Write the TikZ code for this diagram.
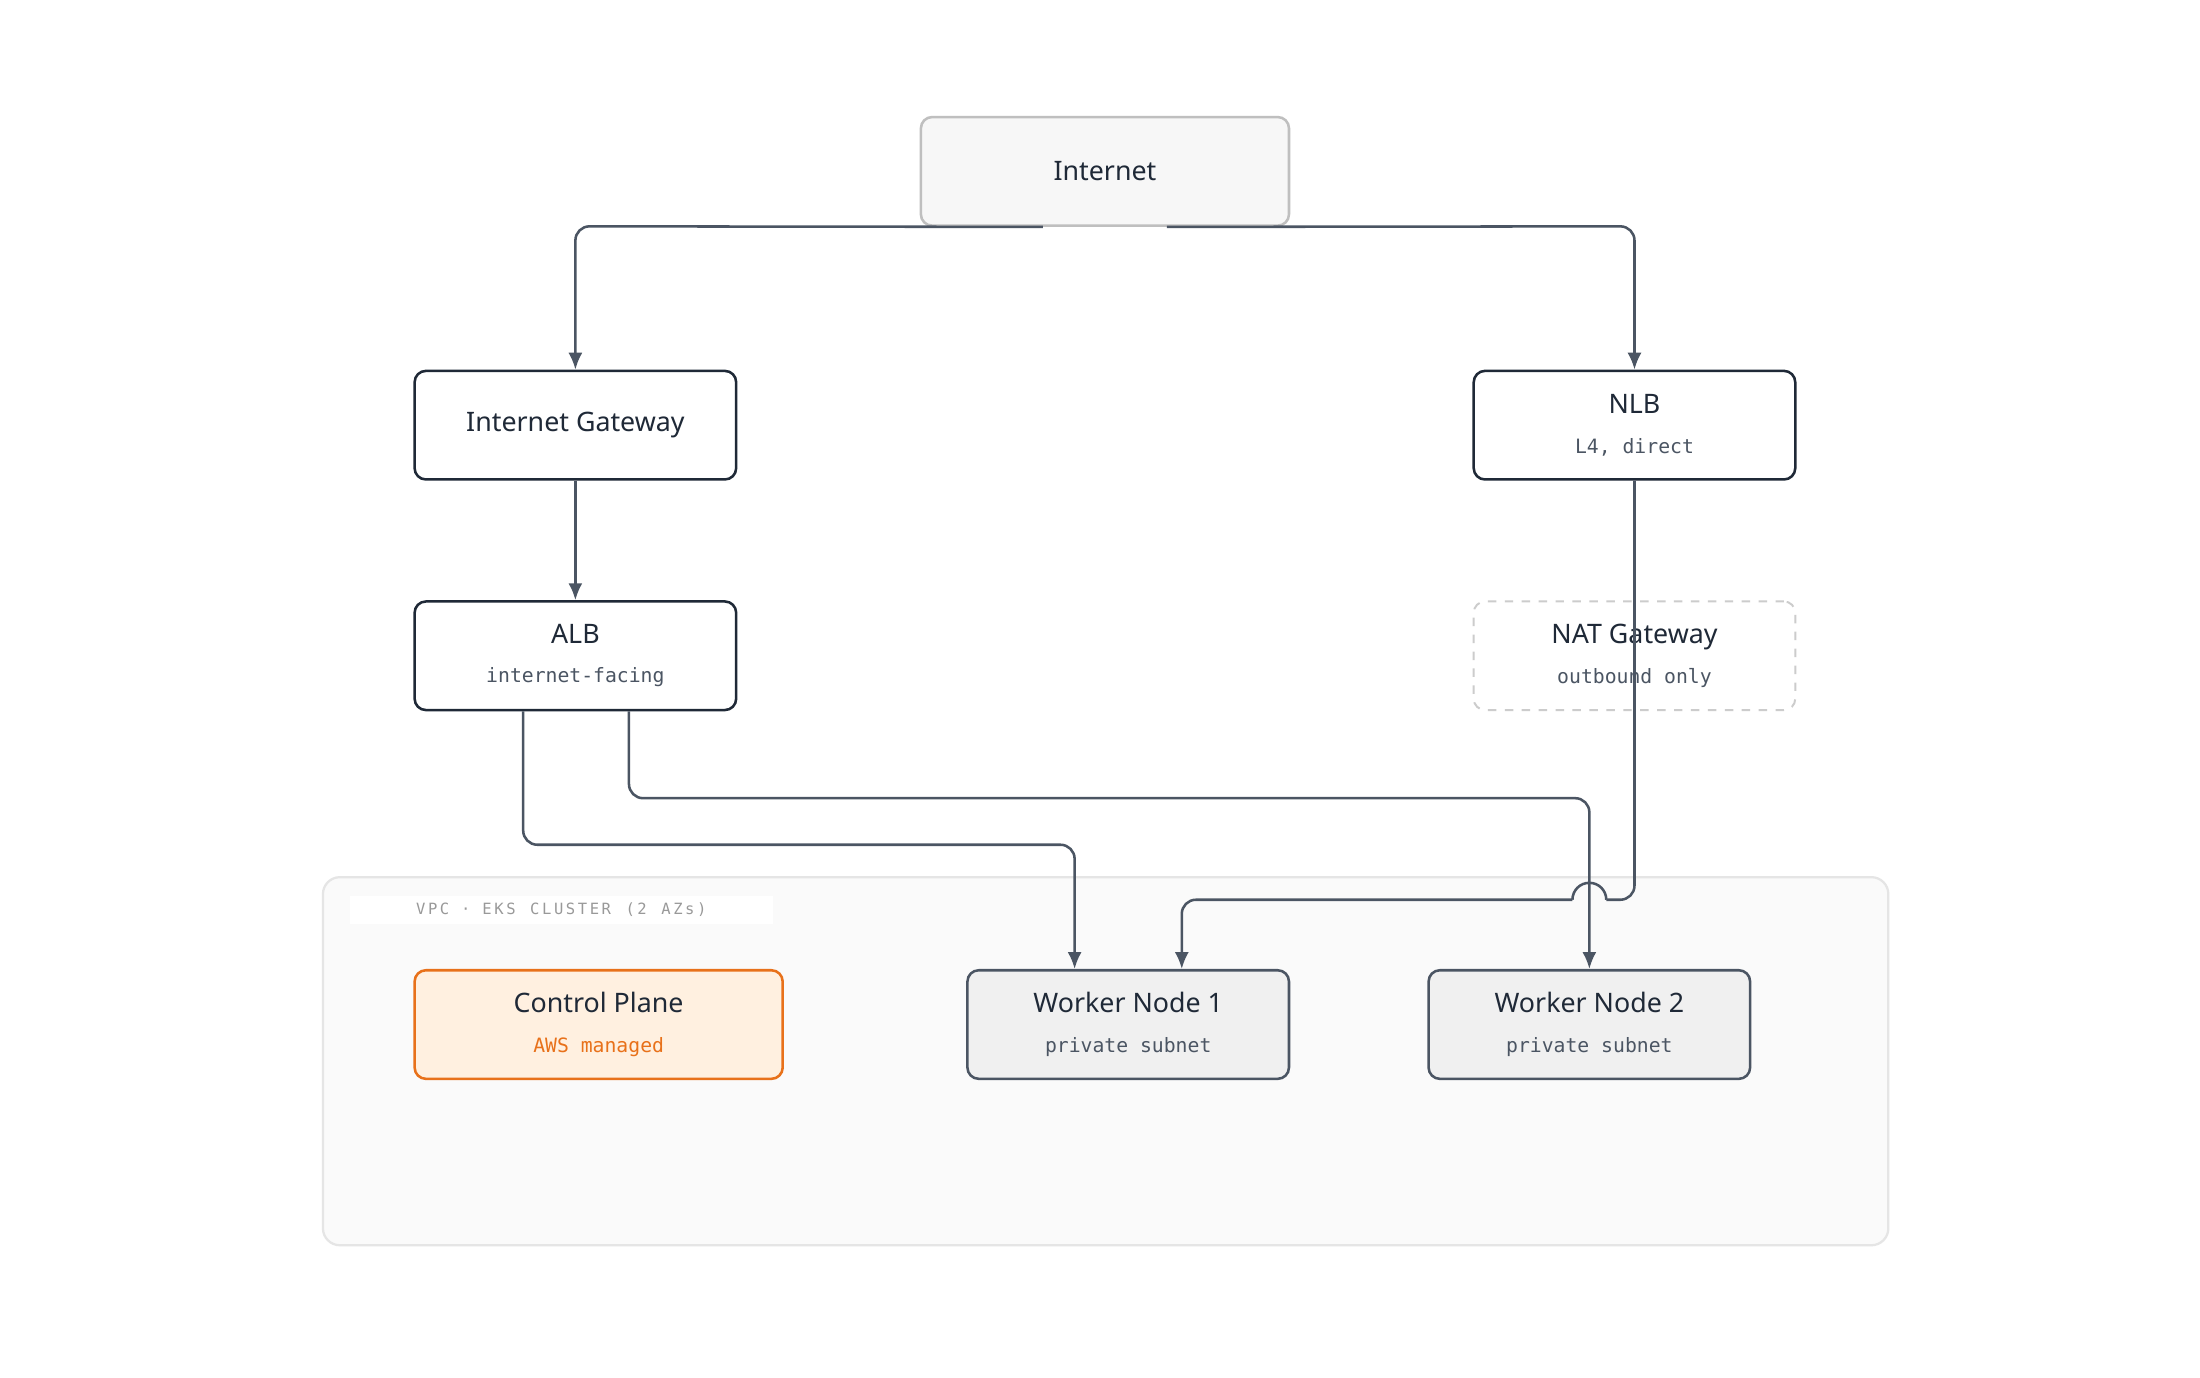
\documentclass[tikz,border=0pt]{standalone}
\usepackage{fontspec}
\setmainfont{Noto Sans}
\newfontfamily\monof{DejaVu Sans Mono}
\usetikzlibrary{arrows.meta}
\definecolor{ink}{HTML}{1F2937}
\definecolor{edge}{HTML}{4B5563}
\definecolor{sub}{HTML}{4B5563}
\definecolor{orng}{HTML}{E8711A}
\newcommand\mysub[2]{\\[2pt]{\normalfont\monof\fontsize{7}{9}\selectfont\textcolor{#1}{#2}}}
\tikzset{
 box/.style={draw=ink,line width=0.9pt,rounded corners=4pt,fill=white,minimum width=114pt,minimum height=38.5pt,align=center,inner sep=0pt,font=\bfseries\fontsize{9.5}{12}\selectfont,text=ink},
 conn/.style={draw=edge,line width=0.9pt,rounded corners=5pt,-{Latex[length=6pt,width=5pt]}},
}
\begin{document}
\begin{tikzpicture}[x=0.5pt,y=-0.5pt]
\useasboundingbox[fill=white] (0,0) rectangle (1560,977);
% VPC
\node[draw=black!10,fill=black!2,rounded corners=6pt,line width=0.8pt,minimum width=555pt,minimum height=130.5pt,inner sep=0pt] (vpc) at (784,752.5) {};
\node[fill=white,minimum width=150pt,minimum height=10pt,inner sep=0pt,font=\monof\fontsize{5.5}{6}\selectfont,text=black!40] (vpclbl) at (398,645) {V\,P\,C\, · \,E\,K\,S\, \,C\,L\,U\,S\,T\,E\,R\, \,(\,2\, \,A\,Z\,s\,)};
% nodes
\node[box,draw=black!25,fill=black!3,minimum width=130.5pt] (inet) at (783.5,121.5) {Internet};
\node[box] (igw) at (408,301.5) {Internet Gateway};
\node[box] (nlb) at (1159,301.5) {NLB\mysub{sub}{L4, direct}};
\node[box] (alb) at (408,465) {ALB\mysub{sub}{internet-facing}};
\node[box,draw=black!20,dashed,line width=0.7pt] (nat) at (1159,465) {NAT Gateway\mysub{sub}{outbound only}};
\node[box,draw=orng,fill=orange!12!white,minimum width=130.5pt] (cp) at (424.5,726.5) {Control Plane\mysub{orng}{AWS managed}};
\node[box,draw=edge,fill=black!6] (w1) at (800,726.5) {Worker Node 1\mysub{sub}{private subnet}};
\node[box,draw=edge,fill=black!6] (w2) at (1127,726.5) {Worker Node 2\mysub{sub}{private subnet}};
% connectors
\draw[conn] (inet.south) ++(-44,0) -- (408,160.5) -- (igw.north);
\draw[conn] (inet.south) ++(44,0) -- (1159,160.5) -- (nlb.north);
\draw[conn] (igw.south) -- (alb.north);
\draw[conn] (alb.south) ++(-37,0) -- (371,599) -- (762,599) -- (w1.north -| 762,0);
\draw[conn] (alb.south) ++(38,0) -- (446,566) -- (1127,566) -- (w2.north);
\draw[draw=edge,line width=0.9pt,rounded corners=5pt] (nlb.south) -- (1159,638) -- (1139,638);
\draw[draw=edge,line width=0.9pt] (1139,638) arc[start angle=0,end angle=180,radius=6pt];
\draw[conn] (1115,638) -- (838,638) -- (w1.north -| 838,0);
\end{tikzpicture}
\end{document}
